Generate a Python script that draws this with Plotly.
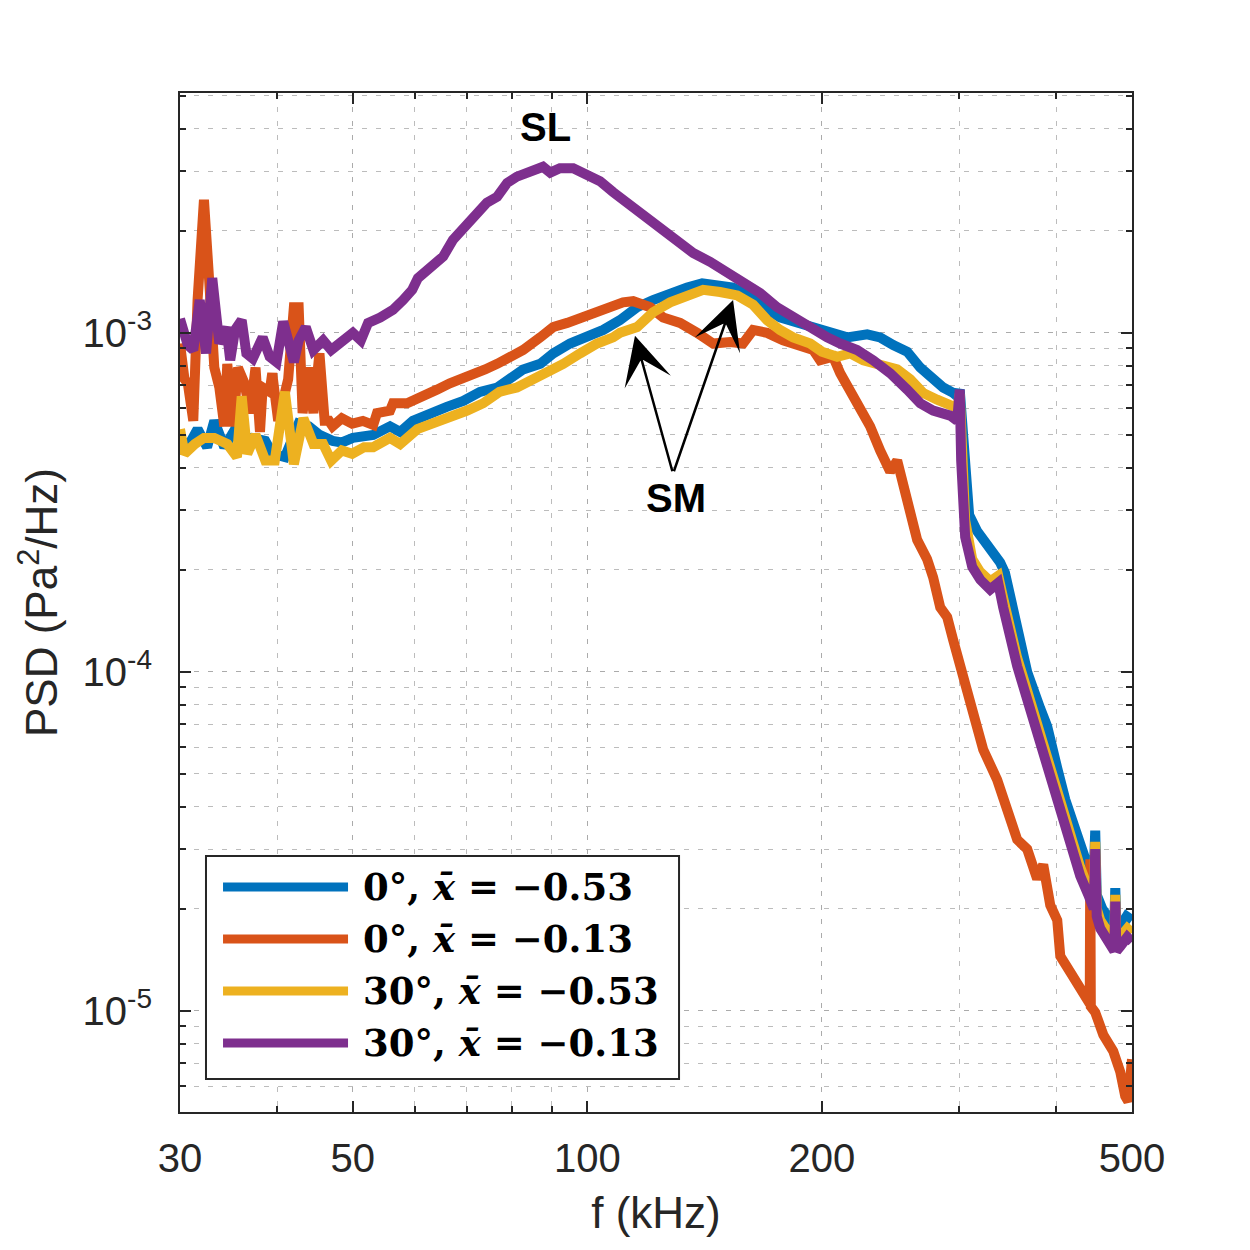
import numpy as np
import plotly.graph_objects as go

# ---------------- data (kHz, Pa^2/Hz) ----------------
f_blue = [30.0, 30.2, 31.0, 31.6, 32.5, 33.2, 34.2, 35.3, 36.0, 37.1, 38.6, 39.4, 40.9, 42.6, 43.9, 45.3, 47.1, 48.4,
          50.0, 53.1, 55.8, 57.5, 59.7, 62.8, 66.0, 69.3, 72.8, 76.6, 79.6, 82.7, 87.0, 90.4, 95.0, 100.0, 104.8,
          110.1, 115.8, 121.4, 127.7, 134.3, 140.4, 146.7, 153.8, 161.8, 168.1, 176.7, 185.9, 194.9, 204.9, 215.5,
          228.6, 237.5, 246.9, 257.3, 267.4, 277.8, 286.2, 294.8, 298.3, 300.5, 303.5, 306.3, 309.0, 316.4, 327.0,
          338.7, 343.5, 348.8, 356.1, 366.8, 381.2, 389.2, 400.9, 410.5, 425.3, 438.0, 446.5, 448.5, 450.5, 458.0,
          468.9, 474.5, 475.9, 477.5, 485.0, 492.0, 500.0]
psd_blue = [4.9e-4, 4.6e-4, 4.8e-4, 5.2e-4, 4.6e-4, 5.5e-4, 4.6e-4, 5.2e-4, 4.8e-4, 4.9e-4, 4.8e-4, 4.4e-4, 4.3e-4,
            5.4e-4, 5.3e-4, 5.0e-4, 4.8e-4, 4.75e-4, 4.9e-4, 5.0e-4, 5.3e-4, 5.1e-4, 5.5e-4, 5.8e-4, 6.05e-4, 6.3e-4,
            6.7e-4, 6.9e-4, 7.3e-4, 7.8e-4, 8.1e-4, 8.7e-4, 9.3e-4, 9.7e-4, 1.02e-3, 1.09e-3, 1.19e-3, 1.25e-3,
            1.31e-3, 1.36e-3, 1.4e-3, 1.37e-3, 1.36e-3, 1.28e-3, 1.19e-3, 1.11e-3, 1.07e-3, 1.03e-3, 1.0e-3, 9.7e-4,
            9.9e-4, 9.7e-4, 9.2e-4, 8.8e-4, 7.9e-4, 7.3e-4, 6.9e-4, 6.65e-4, 6.5e-4, 6.8e-4, 5.0e-4, 4.4e-4, 2.9e-4,
            2.6e-4, 2.35e-4, 2.1e-4, 1.96e-4, 1.65e-4, 1.3e-4, 1.0e-4, 7.8e-5, 6.9e-5, 5.2e-5, 4.2e-5, 3.3e-5,
            2.7e-5, 2.5e-5, 3.4e-5, 2.2e-5, 2.0e-5, 1.85e-5, 1.8e-5, 2.3e-5, 1.8e-5, 1.8e-5, 1.9e-5, 1.85e-5]

f_orange = [30.0, 30.4, 30.7, 31.2, 31.6, 32.2, 32.7, 33.2, 33.7, 34.2, 34.5, 35.1, 35.6, 36.3, 36.9, 37.5, 38.0,
            38.3, 39.1, 39.4, 40.1, 41.3, 42.0, 42.6, 43.1, 43.8, 44.5, 45.3, 46.0, 46.6, 47.1, 48.4, 49.9, 51.5,
            53.1, 53.7, 55.8, 56.3, 58.7, 61.0, 64.1, 66.6, 70.1, 73.9, 76.6, 79.6, 82.7, 87.0, 90.4, 94.2, 97.9,
            101.7, 106.0, 111.1, 114.5, 120.4, 125.1, 131.5, 138.3, 145.0, 152.5, 158.4, 163.2, 170.1, 178.3, 187.5,
            194.9, 198.9, 206.7, 211.1, 219.3, 225.9, 230.6, 237.5, 244.7, 249.8, 254.3, 259.6, 265.0, 272.9, 277.8,
            283.7, 289.6, 294.8, 300.9, 307.2, 316.4, 322.1, 335.7, 345.8, 356.1, 366.8, 377.8, 384.6, 392.7, 400.9,
            404.5, 416.6, 429.1, 439.4, 441.3, 442.0, 442.7, 448.5, 459.3, 473.0, 483.0, 490.1, 494.6, 500.0]
psd_orange = [9.3e-4, 7.3e-4, 7.1e-4, 5.5e-4, 1.25e-3, 2.47e-3, 1.43e-3, 7.9e-4, 6.9e-4, 5.3e-4, 8.1e-4, 5.3e-4,
              7.9e-4, 7.1e-4, 5.8e-4, 7.9e-4, 5.1e-4, 6.9e-4, 6.7e-4, 7.6e-4, 5.5e-4, 7.3e-4, 1.19e-3, 1.19e-3,
              5.8e-4, 7.9e-4, 5.8e-4, 8.7e-4, 5.5e-4, 5.5e-4, 5.3e-4, 5.6e-4, 5.4e-4, 5.5e-4, 5.35e-4, 5.8e-4,
              5.9e-4, 6.2e-4, 6.2e-4, 6.5e-4, 6.8e-4, 7.1e-4, 7.4e-4, 7.8e-4, 8.1e-4, 8.5e-4, 8.9e-4, 9.7e-4,
              1.04e-3, 1.07e-3, 1.11e-3, 1.15e-3, 1.19e-3, 1.23e-3, 1.24e-3, 1.19e-3, 1.11e-3, 1.07e-3, 1.0e-3,
              9.3e-4, 9.4e-4, 9.3e-4, 1.02e-3, 1.0e-3, 9.5e-4, 9.1e-4, 8.9e-4, 8.3e-4, 8.5e-4, 7.6e-4, 6.5e-4,
              5.8e-4, 5.3e-4, 4.5e-4, 3.9e-4, 4.2e-4, 3.6e-4, 3.0e-4, 2.45e-4, 2.15e-4, 1.9e-4, 1.55e-4, 1.45e-4,
              1.24e-4, 1.04e-4, 8.3e-5, 6.6e-5, 5.9e-5, 4.8e-5, 3.8e-5, 3.2e-5, 3.0e-5, 2.45e-5, 2.7e-5, 2.05e-5,
              1.85e-5, 1.45e-5, 1.3e-5, 1.18e-5, 1.08e-5, 1.05e-5, 2.8e-5, 1.03e-5, 9.9e-6, 8.5e-6, 7.6e-6, 6.6e-6,
              5.6e-6, 5.4e-6, 7.2e-6]

f_yellow = [30.0, 30.4, 31.35, 32.2, 33.2, 34.5, 35.5, 36.0, 36.6, 37.5, 38.6, 39.7, 40.9, 42.0, 43.2, 44.5, 45.8,
            46.9, 48.4, 49.9, 51.7, 53.1, 55.8, 57.5, 60.5, 63.4, 66.6, 70.1, 73.5, 77.1, 81.2, 85.2, 89.0, 93.1,
            97.9, 102.9, 107.9, 110.1, 115.8, 121.4, 127.7, 134.3, 140.8, 148.0, 155.7, 163.2, 170.1, 176.7, 183.7,
            193.2, 200.0, 209.2, 217.4, 226.0, 237.5, 249.8, 259.6, 269.7, 281.1, 294.8, 298.3, 300.5, 302.7, 305.4,
            311.8, 319.3, 328.8, 336.7, 341.7, 348.8, 356.1, 366.8, 377.8, 389.2, 398.5, 404.5, 416.6, 429.1, 439.4,
            446.5, 448.5, 450.5, 455.2, 464.7, 474.5, 475.9, 477.5, 483.0, 493.1, 500.0]
psd_yellow = [5.2e-4, 4.4e-4, 4.7e-4, 4.9e-4, 4.9e-4, 4.7e-4, 4.3e-4, 6.5e-4, 4.4e-4, 5.0e-4, 4.2e-4, 4.2e-4,
              6.7e-4, 4.1e-4, 5.6e-4, 4.7e-4, 4.7e-4, 4.2e-4, 4.5e-4, 4.4e-4, 4.6e-4, 4.6e-4, 4.9e-4, 4.7e-4,
              5.2e-4, 5.4e-4, 5.6e-4, 5.9e-4, 6.2e-4, 6.7e-4, 6.9e-4, 7.3e-4, 7.6e-4, 8.1e-4, 8.7e-4, 9.3e-4,
              9.7e-4, 1.0e-3, 1.04e-3, 1.15e-3, 1.23e-3, 1.28e-3, 1.34e-3, 1.32e-3, 1.29e-3, 1.21e-3, 1.09e-3,
              1.02e-3, 9.7e-4, 9.3e-4, 8.8e-4, 8.5e-4, 8.7e-4, 8.3e-4, 8.1e-4, 7.8e-4, 7.3e-4, 6.65e-4, 6.35e-4,
              6.1e-4, 6.0e-4, 6.6e-4, 3.6e-4, 2.8e-4, 2.15e-4, 1.97e-4, 1.85e-4, 1.92e-4, 1.65e-4, 1.32e-4, 1.1e-4,
              8.8e-5, 7.0e-5, 5.5e-5, 4.55e-5, 4.0e-5, 3.2e-5, 2.65e-5, 2.3e-5, 2.1e-5, 3.15e-5, 2.0e-5, 1.85e-5,
              1.7e-5, 1.6e-5, 2.2e-5, 1.6e-5, 1.65e-5, 1.75e-5, 1.7e-5]

f_purple = [30.0, 30.7, 31.2, 31.8, 32.4, 33.0, 33.7, 34.4, 34.8, 35.3, 36.0, 36.5, 37.2, 38.3, 39.1, 39.9, 40.7,
            42.0, 42.6, 43.5, 44.5, 45.8, 46.9, 48.1, 50.0, 51.2, 52.3, 54.2, 56.3, 58.0, 59.6, 60.6, 62.8, 65.3,
            67.2, 69.3, 71.3, 74.3, 76.6, 78.9, 81.2, 84.4, 87.7, 89.6, 92.2, 95.9, 100.0, 103.8, 107.9, 112.5,
            117.9, 124.0, 130.4, 136.7, 143.7, 151.1, 158.4, 166.6, 175.2, 183.7, 193.2, 203.1, 211.1, 221.9, 232.7,
            244.7, 257.3, 267.4, 277.8, 292.2, 298.3, 300.5, 301.8, 302.7, 305.4, 311.8, 319.3, 328.8, 336.7, 341.7,
            348.8, 356.1, 366.8, 377.8, 389.2, 398.5, 404.5, 416.6, 429.1, 439.4, 446.5, 448.5, 450.5, 455.2, 464.7,
            474.5, 475.9, 477.5, 483.0, 493.1, 500.0]
psd_purple = [1.1e-3, 9.2e-4, 8.9e-4, 1.25e-3, 8.7e-4, 1.45e-3, 9.3e-4, 1.04e-3, 8.3e-4, 1.02e-3, 1.09e-3, 8.7e-4,
              8.4e-4, 9.7e-4, 8.5e-4, 8.2e-4, 1.08e-3, 8.2e-4, 9.5e-4, 1.04e-3, 8.9e-4, 9.5e-4, 8.9e-4, 9.4e-4,
              1.0e-3, 9.5e-4, 1.07e-3, 1.11e-3, 1.17e-3, 1.25e-3, 1.34e-3, 1.45e-3, 1.55e-3, 1.68e-3, 1.88e-3,
              2.04e-3, 2.2e-3, 2.42e-3, 2.52e-3, 2.77e-3, 2.89e-3, 2.97e-3, 3.09e-3, 2.97e-3, 3.06e-3, 3.06e-3,
              2.92e-3, 2.8e-3, 2.6e-3, 2.42e-3, 2.2e-3, 2.05e-3, 1.88e-3, 1.72e-3, 1.62e-3, 1.51e-3, 1.41e-3,
              1.31e-3, 1.19e-3, 1.11e-3, 1.03e-3, 9.7e-4, 9.3e-4, 8.9e-4, 8.3e-4, 7.6e-4, 6.8e-4, 6.2e-4, 5.9e-4,
              5.7e-4, 5.5e-4, 6.8e-4, 4.2e-4, 3.1e-4, 2.5e-4, 2.04e-4, 1.87e-4, 1.75e-4, 1.83e-4, 1.55e-4, 1.24e-4,
              1.04e-4, 8.3e-5, 6.6e-5, 5.2e-5, 4.3e-5, 3.8e-5, 3.05e-5, 2.5e-5, 2.2e-5, 2.0e-5, 3.0e-5, 1.9e-5,
              1.75e-5, 1.6e-5, 1.5e-5, 2.1e-5, 1.5e-5, 1.55e-5, 1.65e-5, 1.6e-5]

series_names = ["0°, x̄ = −0.53", "0°, x̄ = −0.13", "30°, x̄ = −0.53", "30°, x̄ = −0.13"]
legend_html = ["<b>0°, <i>x̄</i> = −0.53</b>", "<b>0°, <i>x̄</i> = −0.13</b>",
               "<b>30°, <i>x̄</i> = −0.53</b>", "<b>30°, <i>x̄</i> = −0.13</b>"]
series_colors = ["#0072BD", "#D95319", "#EDB120", "#7E2F8E"]

x_tickvals = [30, 50, 100, 200, 500]
x_ticktext = ["30", "50", "100", "200", "500"]
x_minor = [40, 60, 70, 80, 90, 300, 400]
y_tickvals = [1e-5, 1e-4, 1e-3]
y_ticktext = ["10<sup>-5</sup>", "10<sup>-4</sup>", "10<sup>-3</sup>"]
y_minor = [6e-6, 7e-6, 8e-6, 9e-6] + [k * 1e-5 for k in range(2, 10)] + \
          [k * 1e-4 for k in range(2, 10)] + [2e-3, 3e-3, 4e-3, 5e-3]

# annotation anchor points (kHz, PSD)
sl_pos = (88.3, 4.06e-3)
sm_pos = (130.0, 3.26e-4)
sm_tail = (128.8, 3.84e-4)
sm_tips = [(115.1, 0.98e-3), (153.8, 1.25e-3)]

# ---------------- figure ----------------
FONT = "Liberation Sans, Arial, Helvetica, sans-serif"
AX = "#262626"
fig = go.Figure()
for fx, py, name, col in zip([f_blue, f_orange, f_yellow, f_purple],
                             [psd_blue, psd_orange, psd_yellow, psd_purple],
                             series_names, series_colors):
    fig.add_trace(go.Scatter(x=fx, y=py, mode="lines", name=name, showlegend=False,
                             line=dict(color=col, width=10)))

axis_common = dict(
    type="log", showline=True, linecolor=AX, linewidth=2, mirror="ticks",
    ticks="inside", ticklen=11, tickwidth=2, tickcolor=AX,
    showgrid=True, gridcolor="#ababab", gridwidth=1.2, griddash="5px,9px",
    tickfont=dict(family=FONT, size=40, color=AX), zeroline=False,
)
fig.update_xaxes(**axis_common, range=[np.log10(30), np.log10(500)],
                 tickmode="array", tickvals=x_tickvals, ticktext=x_ticktext,
                 ticklabelstandoff=10,
                 minor=dict(tickmode="array", tickvals=x_minor, ticks="inside", ticklen=6,
                            tickwidth=2, tickcolor=AX, showgrid=True, gridcolor="#bcbcbc",
                            gridwidth=1.2, griddash="5px,9px"),
                 title=dict(text="f (kHz)", font=dict(family=FONT, size=44, color=AX), standoff=18))
fig.update_yaxes(**axis_common, range=[np.log10(5.03e-6), np.log10(5.1e-3)],
                 tickmode="array", tickvals=y_tickvals, ticktext=y_ticktext,
                 ticklabelstandoff=18,
                 minor=dict(tickmode="array", tickvals=y_minor, ticks="inside", ticklen=6,
                            tickwidth=2, tickcolor=AX, showgrid=True, gridcolor="#bcbcbc",
                            gridwidth=1.2, griddash="5px,9px"),
                 title=dict(text="PSD (Pa<sup>2</sup>/Hz)", font=dict(family=FONT, size=44, color=AX),
                            standoff=11))

annotations = [
    dict(x=np.log10(sl_pos[0]), y=np.log10(sl_pos[1]), xref="x", yref="y", text="<b>SL</b>",
         showarrow=False, font=dict(family=FONT, size=40, color="black")),
    dict(x=np.log10(sm_pos[0]), y=np.log10(sm_pos[1]), xref="x", yref="y", text="<b>SM</b>",
         showarrow=False, font=dict(family=FONT, size=40, color="black")),
]
for tip in sm_tips:
    annotations.append(dict(x=np.log10(tip[0]), y=np.log10(tip[1]), xref="x", yref="y",
                            ax=np.log10(sm_tail[0]), ay=np.log10(sm_tail[1]), axref="x", ayref="y",
                            text=" ", showarrow=True, arrowhead=3, arrowsize=3.2, arrowwidth=2.5,
                            arrowcolor="black", font=dict(size=2)))

# custom legend (long line samples as in the original)
leg_x0, leg_x1, leg_y0, leg_y1 = 0.0273, 0.5242, 0.0324, 0.2512
shapes = [dict(type="rect", xref="paper", yref="paper", x0=leg_x0, x1=leg_x1, y0=leg_y0, y1=leg_y1,
               line=dict(color=AX, width=2), fillcolor="white", layer="above")]
row_y = [0.2208, 0.1698, 0.1188, 0.0677]
for ry, col, txt in zip(row_y, series_colors, legend_html):
    shapes.append(dict(type="line", xref="paper", yref="paper", x0=0.0452, x1=0.1765, y0=ry, y1=ry,
                       line=dict(color=col, width=9), layer="above"))
    annotations.append(dict(x=0.1900, y=ry, xref="paper", yref="paper", xanchor="left", yanchor="middle",
                            text=txt, showarrow=False,
                            font=dict(family="DejaVu Serif, serif", size=37, color="black")))

fig.update_layout(
    width=1250, height=1250,
    margin=dict(l=180, r=118, t=93, b=138, autoexpand=False),
    paper_bgcolor="white", plot_bgcolor="white",
    showlegend=False,
    annotations=annotations, shapes=shapes,
    font=dict(family=FONT, color=AX),
)

fig.write_html("out.html")
